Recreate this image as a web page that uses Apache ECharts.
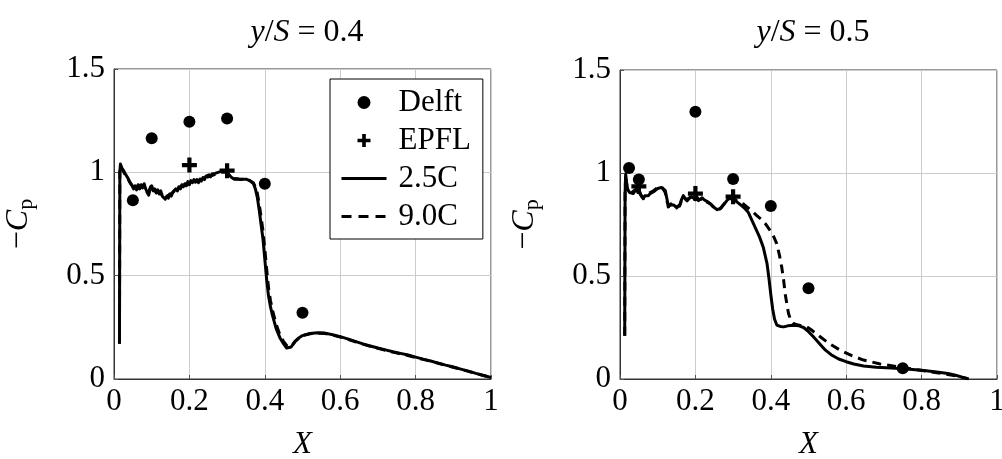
<!DOCTYPE html>
<html>
<head>
<meta charset="utf-8">
<script src="https://cdn.jsdelivr.net/npm/echarts@6/dist/echarts.min.js"></script>
<style>html,body{margin:0;padding:0;background:#fff}#c{width:1002px;height:459px}</style>
</head>
<body>
<div id="c"></div>
<script>
// ---- data ----
const xTicks = [0, 0.2, 0.4, 0.6, 0.8, 1];
const yTicks = [0, 0.5, 1, 1.5];
const titles = ['0.4', '0.5'];

const leftDelft = [[0.05,0.865],[0.1,1.165],[0.2,1.245],[0.3,1.26],[0.4,0.945],[0.5,0.32]];
const leftEPFL = [[0.2,1.035],[0.3,1.008]];
const left25 = [[0.0145,0.17],[0.0155,1.0],[0.017,1.04],[0.021,1.02],[0.025,1.01],[0.029,0.995],[0.033,0.99],[0.036,0.975],[0.04,0.96],[0.044,0.945],[0.048,0.935],[0.052,0.92],[0.056,0.935],[0.06,0.915],[0.064,0.94],[0.068,0.92],[0.072,0.94],[0.076,0.925],[0.08,0.945],[0.084,0.92],[0.088,0.915],[0.092,0.89],[0.096,0.92],[0.1,0.935],[0.104,0.91],[0.108,0.92],[0.112,0.9],[0.116,0.915],[0.12,0.895],[0.124,0.91],[0.128,0.885],[0.132,0.89],[0.136,0.87],[0.14,0.885],[0.144,0.875],[0.148,0.895],[0.152,0.885],[0.156,0.905],[0.16,0.9],[0.164,0.92],[0.168,0.91],[0.172,0.93],[0.176,0.92],[0.18,0.94],[0.184,0.93],[0.188,0.945],[0.192,0.935],[0.196,0.955],[0.2,0.94],[0.204,0.96],[0.208,0.95],[0.212,0.965],[0.216,0.952],[0.22,0.965],[0.224,0.95],[0.228,0.968],[0.232,0.958],[0.236,0.975],[0.24,0.965],[0.244,0.982],[0.248,0.975],[0.252,0.988],[0.256,0.978],[0.26,0.992],[0.264,0.983],[0.268,0.995],[0.272,0.988],[0.276,1.0],[0.28,0.992],[0.284,1.005],[0.288,0.997],[0.292,1.006],[0.296,0.998],[0.3,1.0],[0.304,0.99],[0.308,0.985],[0.312,0.975],[0.316,0.972],[0.32,0.966],[0.324,0.974],[0.328,0.968],[0.332,0.97],[0.336,0.965],[0.34,0.969],[0.344,0.966],[0.348,0.97],[0.352,0.966],[0.356,0.964],[0.36,0.96],[0.365,0.955],[0.37,0.945],[0.375,0.92],[0.38,0.88],[0.385,0.82],[0.39,0.75],[0.395,0.68],[0.4,0.58],[0.405,0.48],[0.41,0.4],[0.415,0.35],[0.42,0.31],[0.43,0.245],[0.44,0.2],[0.45,0.17],[0.458,0.15],[0.463,0.145],[0.47,0.155],[0.48,0.18],[0.49,0.198],[0.5,0.21],[0.52,0.22],[0.54,0.224],[0.56,0.222],[0.58,0.214],[0.6,0.205],[0.62,0.194],[0.64,0.182],[0.66,0.17],[0.68,0.16],[0.7,0.15],[0.72,0.141],[0.74,0.132],[0.76,0.124],[0.78,0.116],[0.8,0.106],[0.82,0.096],[0.84,0.087],[0.86,0.077],[0.88,0.067],[0.9,0.058],[0.92,0.048],[0.94,0.038],[0.96,0.027],[0.98,0.017],[1.0,0.007]];
const left90 = [[0.0145,0.17],[0.0155,1.0],[0.017,1.035],[0.021,1.015],[0.025,1.005],[0.029,0.99],[0.033,0.985],[0.037,0.97],[0.041,0.955],[0.045,0.95],[0.049,0.935],[0.053,0.925],[0.057,0.93],[0.061,0.92],[0.065,0.935],[0.069,0.925],[0.073,0.935],[0.077,0.94],[0.081,0.925],[0.085,0.915],[0.089,0.9],[0.093,0.91],[0.097,0.93],[0.101,0.925],[0.105,0.91],[0.11,0.905],[0.115,0.905],[0.12,0.9],[0.125,0.895],[0.13,0.89],[0.135,0.88],[0.14,0.885],[0.145,0.89],[0.15,0.895],[0.155,0.9],[0.16,0.91],[0.165,0.915],[0.17,0.925],[0.175,0.93],[0.18,0.935],[0.185,0.94],[0.19,0.94],[0.195,0.95],[0.2,0.95],[0.205,0.955],[0.21,0.96],[0.215,0.958],[0.22,0.955],[0.225,0.955],[0.23,0.96],[0.235,0.968],[0.24,0.97],[0.245,0.975],[0.25,0.98],[0.255,0.982],[0.26,0.985],[0.265,0.988],[0.27,0.99],[0.275,0.995],[0.28,0.998],[0.285,1.0],[0.29,1.002],[0.295,1.0],[0.3,0.993],[0.305,0.988],[0.31,0.978],[0.315,0.97],[0.32,0.97],[0.325,0.972],[0.33,0.968],[0.335,0.966],[0.34,0.967],[0.345,0.968],[0.35,0.967],[0.355,0.964],[0.36,0.96],[0.365,0.956],[0.37,0.948],[0.375,0.93],[0.38,0.9],[0.385,0.85],[0.39,0.785],[0.395,0.72],[0.4,0.63],[0.405,0.53],[0.41,0.44],[0.415,0.38],[0.42,0.335],[0.43,0.265],[0.44,0.215],[0.45,0.18],[0.458,0.162],[0.465,0.155],[0.472,0.162],[0.48,0.182],[0.49,0.198],[0.5,0.21],[0.52,0.219],[0.54,0.222],[0.56,0.22],[0.58,0.212],[0.6,0.203],[0.62,0.192],[0.64,0.18],[0.66,0.169],[0.68,0.158],[0.7,0.148],[0.72,0.139],[0.74,0.13],[0.76,0.122],[0.78,0.114],[0.8,0.104],[0.82,0.095],[0.84,0.086],[0.86,0.076],[0.88,0.066],[0.9,0.057],[0.92,0.047],[0.94,0.037],[0.96,0.027],[0.98,0.017],[1.0,0.008]];

const rightDelft = [[0.024,1.024],[0.05,0.968],[0.2,1.297],[0.3,0.971],[0.4,0.84],[0.5,0.44],[0.75,0.052]];
const rightEPFL = [[0.05,0.935],[0.2,0.9],[0.3,0.885]];
const right25 = [[0.0125,0.21],[0.0135,0.9],[0.015,0.995],[0.019,0.93],[0.022,0.915],[0.026,0.905],[0.03,0.91],[0.035,0.9],[0.04,0.915],[0.045,0.91],[0.049,0.925],[0.053,0.9],[0.058,0.885],[0.062,0.875],[0.066,0.89],[0.07,0.885],[0.075,0.89],[0.08,0.9],[0.085,0.905],[0.09,0.91],[0.095,0.915],[0.1,0.925],[0.105,0.92],[0.11,0.93],[0.115,0.925],[0.12,0.915],[0.125,0.87],[0.128,0.835],[0.133,0.845],[0.138,0.84],[0.143,0.845],[0.148,0.835],[0.153,0.83],[0.158,0.84],[0.163,0.87],[0.168,0.89],[0.173,0.875],[0.178,0.865],[0.183,0.875],[0.188,0.885],[0.193,0.89],[0.198,0.875],[0.203,0.885],[0.208,0.866],[0.213,0.875],[0.218,0.88],[0.223,0.87],[0.228,0.865],[0.233,0.86],[0.238,0.855],[0.243,0.845],[0.248,0.835],[0.253,0.83],[0.258,0.822],[0.263,0.82],[0.268,0.83],[0.273,0.842],[0.278,0.85],[0.283,0.865],[0.288,0.875],[0.293,0.88],[0.298,0.875],[0.303,0.87],[0.31,0.86],[0.32,0.845],[0.33,0.83],[0.34,0.81],[0.35,0.77],[0.36,0.73],[0.37,0.69],[0.38,0.64],[0.39,0.56],[0.395,0.49],[0.4,0.41],[0.405,0.34],[0.41,0.29],[0.416,0.262],[0.425,0.255],[0.434,0.253],[0.445,0.258],[0.46,0.261],[0.475,0.258],[0.487,0.25],[0.5,0.23],[0.513,0.205],[0.53,0.17],[0.545,0.14],[0.56,0.118],[0.58,0.097],[0.6,0.084],[0.62,0.073],[0.646,0.063],[0.68,0.057],[0.72,0.053],[0.76,0.048],[0.8,0.042],[0.84,0.034],[0.87,0.027],[0.89,0.018],[0.91,0.008],[0.925,0.0]];
const right90 = [[0.0125,0.21],[0.0135,0.9],[0.015,0.99],[0.019,0.925],[0.023,0.91],[0.027,0.915],[0.031,0.905],[0.036,0.91],[0.041,0.92],[0.046,0.905],[0.05,0.92],[0.055,0.895],[0.06,0.88],[0.065,0.885],[0.07,0.895],[0.075,0.89],[0.08,0.905],[0.085,0.91],[0.09,0.915],[0.095,0.92],[0.1,0.93],[0.105,0.925],[0.11,0.935],[0.115,0.92],[0.12,0.905],[0.125,0.86],[0.13,0.84],[0.135,0.85],[0.14,0.835],[0.145,0.84],[0.15,0.83],[0.155,0.825],[0.16,0.85],[0.165,0.875],[0.17,0.885],[0.175,0.87],[0.18,0.87],[0.185,0.88],[0.19,0.89],[0.195,0.885],[0.2,0.87],[0.205,0.88],[0.21,0.87],[0.215,0.878],[0.22,0.875],[0.225,0.868],[0.23,0.86],[0.235,0.858],[0.24,0.85],[0.245,0.84],[0.25,0.832],[0.255,0.826],[0.26,0.818],[0.265,0.825],[0.27,0.836],[0.275,0.848],[0.28,0.858],[0.285,0.87],[0.29,0.878],[0.295,0.882],[0.3,0.877],[0.31,0.865],[0.32,0.855],[0.327,0.85],[0.34,0.83],[0.35,0.815],[0.363,0.793],[0.375,0.775],[0.385,0.755],[0.398,0.721],[0.408,0.69],[0.416,0.656],[0.423,0.6],[0.429,0.543],[0.434,0.48],[0.438,0.415],[0.443,0.36],[0.447,0.318],[0.453,0.285],[0.46,0.27],[0.47,0.263],[0.483,0.258],[0.496,0.253],[0.51,0.235],[0.531,0.205],[0.555,0.172],[0.584,0.14],[0.615,0.113],[0.646,0.092],[0.69,0.073],[0.735,0.06],[0.78,0.047],[0.823,0.035],[0.86,0.025],[0.89,0.015],[0.92,0.003]];

// ---- chart ----
const FONT = '"Liberation Serif", "Times New Roman", serif';
const PLUS = 'path://M3.6,0h2.8v3.6h3.6v2.8h-3.6v3.6h-2.8v-3.6h-3.6v-2.8h3.6z';
const DASH = [9, 6];
const LW = 3;
const chart = echarts.init(document.getElementById('c'), null, {renderer: 'canvas'});

function xAxisCfg(i) {
  return {
    type: 'value', gridIndex: i, min: 0, max: 1, interval: 0.2,
    name: 'X', nameLocation: 'middle', nameGap: 50,
    nameTextStyle: {fontFamily: FONT, fontSize: 31, fontStyle: 'italic', color: '#000'},
    axisLine: {show: true, lineStyle: {color: '#333', width: 1}},
    axisTick: {show: true, inside: true, length: 4, lineStyle: {color: '#555'}},
    axisLabel: {fontFamily: FONT, fontSize: 31, color: '#000', margin: 7,
      formatter: v => String(+v.toFixed(2))},
    splitLine: {show: true, lineStyle: {color: '#cccccc', width: 1}}
  };
}
function yAxisCfg(i) {
  return {
    type: 'value', gridIndex: i, min: 0, max: 1.5, interval: 0.5,
    name: '{m|−}{c|C}{s|p}', nameLocation: 'middle', nameGap: 77, nameRotate: 90,
    nameTextStyle: {fontFamily: FONT, fontSize: 32, color: '#000',
      rich: {
        m: {fontFamily: FONT, fontSize: 32, color: '#000'},
        c: {fontFamily: FONT, fontSize: 32, fontStyle: 'italic', color: '#000'},
        s: {fontFamily: FONT, fontSize: 22, color: '#000', padding: [14, 0, 0, 0]}
      }},
    axisLine: {show: true, lineStyle: {color: '#333', width: 1}},
    axisTick: {show: true, inside: true, length: 4, lineStyle: {color: '#555'}},
    axisLabel: {fontFamily: FONT, fontSize: 31, color: '#000', margin: 9,
      formatter: v => String(+v.toFixed(2))},
    splitLine: {show: true, lineStyle: {color: '#cccccc', width: 1}}
  };
}
function titleCfg(center, val) {
  return {
    text: '{i|y}/{i|S}{e|=}' + val, left: center, top: 12, textAlign: 'center',
    textStyle: {fontFamily: FONT, fontSize: 32, fontWeight: 'normal', color: '#000',
      rich: {i: {fontFamily: FONT, fontSize: 32, fontStyle: 'italic', color: '#000'},
             e: {fontFamily: FONT, fontSize: 32, color: '#000', padding: [0, 8, 0, 8]}}}
  };
}
function scatterS(name, data, idx, sym, size) {
  return {name, type: 'scatter', xAxisIndex: idx, yAxisIndex: idx, data,
    symbol: sym, symbolSize: size, itemStyle: {color: '#000', opacity: 1}, z: 5};
}
function lineS(name, data, idx, dashed) {
  return {name, type: 'line', xAxisIndex: idx, yAxisIndex: idx, data,
    symbol: 'none', smooth: false,
    lineStyle: {color: '#000', width: LW, type: dashed ? DASH : 'solid', join: 'round'},
    itemStyle: {color: '#000'}, z: dashed ? 3 : 4};
}

chart.setOption({
  animation: false,
  backgroundColor: '#fff',
  title: [titleCfg(302, titles[0]), titleCfg(808, titles[1])],
  grid: [
    {left: 114, top: 69, width: 377, height: 310, show: true, borderColor: '#333', borderWidth: 1, containLabel: false, outerBoundsMode: 'none'},
    {left: 620, top: 70, width: 377, height: 309, show: true, borderColor: '#333', borderWidth: 1, containLabel: false, outerBoundsMode: 'none'}
  ],
  xAxis: [xAxisCfg(0), xAxisCfg(1)],
  yAxis: [yAxisCfg(0), yAxisCfg(1)],
  legend: {
    orient: 'vertical', left: 330, top: 79,
    backgroundColor: '#fff', borderColor: '#000', borderWidth: 1,
    padding: [8, 12, 7, 10], itemGap: 7, itemWidth: 45, itemHeight: 13,
    textStyle: {fontFamily: FONT, fontSize: 31, color: '#000', padding: [0, 0, 0, 7]},
    data: [
      {name: 'Delft', icon: 'circle', itemStyle: {opacity: 1, color: '#000'}},
      {name: 'EPFL', icon: PLUS, itemStyle: {opacity: 1, color: '#000'}},
      {name: '2.5C', itemStyle: {color: 'rgba(0,0,0,0)', borderWidth: 0}, lineStyle: {color: '#000', width: LW}},
      {name: '9.0C', itemStyle: {color: 'rgba(0,0,0,0)', borderWidth: 0}, lineStyle: {color: '#000', width: LW, type: [10, 7]}}
    ]
  },
  series: [
    lineS('9.0C', left90, 0, true),
    lineS('2.5C', left25, 0, false),
    scatterS('Delft', leftDelft, 0, 'circle', 12),
    scatterS('EPFL', leftEPFL, 0, PLUS, 15),
    lineS('9.0C', right90, 1, true),
    lineS('2.5C', right25, 1, false),
    scatterS('Delft', rightDelft, 1, 'circle', 12),
    scatterS('EPFL', rightEPFL, 1, PLUS, 15)
  ]
});
</script>
</body>
</html>
